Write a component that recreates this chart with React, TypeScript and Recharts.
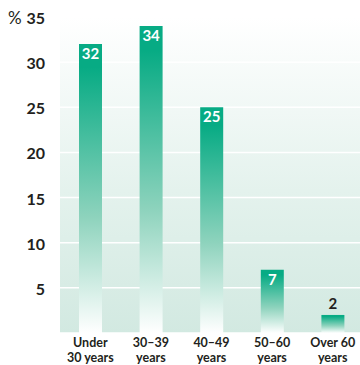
import React from "react";
import { BarChart, Bar, XAxis, YAxis, CartesianGrid, LabelList, Cell } from "recharts";

document.body.style.margin = "0";

const ageGroups = ["Under\n30 years", "30–39\nyears", "40–49\nyears", "50–60\nyears", "Over 60\nyears"];
const shares = [32, 34, 25, 7, 2];
const yTicks = [5, 10, 15, 20, 25, 30, 35];

const data = ageGroups.map((group, i) => ({ group, share: shares[i] }));

const FONT = "Lato, sans-serif";
const INK = "#231f20";
const TEAL = "#07ab84";

const YTick = (props: any) => {
  const { y, payload } = props;
  return (
    <g>
      {payload.value === 35 && (
        <text x={8} y={y} dy={7} fontFamily={FONT} fontSize={17} fill={INK} textAnchor="start">
          %
        </text>
      )}
      <text x={45} y={y} dy={7} fontFamily={FONT} fontWeight={700} fontSize={16} fill={INK} textAnchor="end">
        {payload.value}
      </text>
    </g>
  );
};

const XTick = (props: any) => {
  const { x, payload } = props;
  const lines = String(payload.value).split("\n");
  return (
    <g>
      {lines.map((line, i) => (
        <text
          key={i}
          x={x}
          y={347 + i * 15}
          fontFamily={FONT}
          fontWeight={700}
          fontSize={12.5}
          fill={INK}
          textAnchor="middle"
        >
          {line}
        </text>
      ))}
    </g>
  );
};

const ValueLabel = (props: any) => {
  const { x, y, width, value } = props;
  const inside = value >= 5;
  return (
    <text
      x={x + width / 2}
      y={inside ? y + 10 : y - 11}
      dy={5}
      textAnchor="middle"
      fontFamily={FONT}
      fontWeight={700}
      fontSize={15}
      fill={inside ? "#ffffff" : INK}
    >
      {value}
    </text>
  );
};

export default function App() {
  return (
    <div style={{ width: 360, height: 365, overflow: "hidden" }}>
      <BarChart
        width={364}
        height={365}
        data={data}
        margin={{ top: 17, right: 1, bottom: 0, left: 0 }}
        barCategoryGap={0}
      >
        <defs>
          <linearGradient id="plotBg" x1="0" y1="0" x2="0" y2="1">
            <stop offset="0" stopColor="#ffffff" />
            <stop offset="0.55" stopColor="#e4f2ed" />
            <stop offset="1" stopColor="#d2e9e1" />
          </linearGradient>
          <linearGradient id="barFade" x1="0" y1="0" x2="0" y2="1">
            <stop offset="0" stopColor={TEAL} />
            <stop offset="0.08" stopColor={TEAL} />
            <stop offset="0.6" stopColor="#8ed3bd" />
            <stop offset="1" stopColor="#ffffff" />
          </linearGradient>
        </defs>
        <CartesianGrid
          vertical={false}
          stroke="#ffffff"
          strokeWidth={1.5}
          fill="url(#plotBg)"
          fillOpacity={1}
        />
        <XAxis
          dataKey="group"
          axisLine={false}
          tickLine={false}
          height={32}
          interval={0}
          tick={<XTick />}
        />
        <YAxis
          domain={[0, 35]}
          ticks={yTicks}
          axisLine={false}
          tickLine={false}
          width={60}
          tick={<YTick />}
        />
        <Bar dataKey="share" barSize={23} isAnimationActive={false}>
          {data.map((d) => (
            <Cell key={d.group} fill="url(#barFade)" />
          ))}
          <LabelList dataKey="share" content={<ValueLabel />} />
        </Bar>
      </BarChart>
    </div>
  );
}
